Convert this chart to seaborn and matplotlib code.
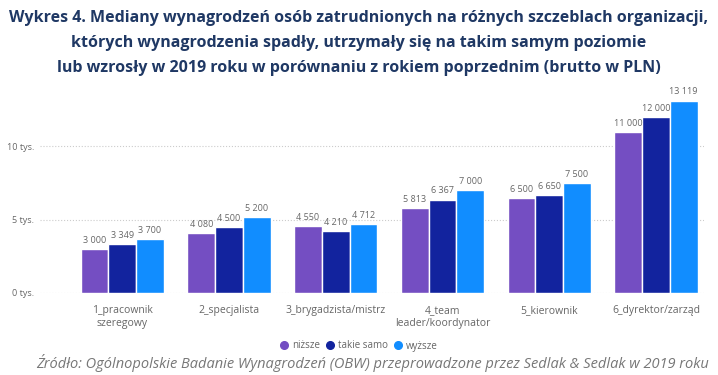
import pandas as pd
import matplotlib.pyplot as plt
import seaborn as sns
from matplotlib.lines import Line2D

# data
categories = ["1_pracownik\nszeregowy", "2_specjalista", "3_brygadzista/mistrz",
              "4_team\nleader/koordynator", "5_kierownik", "6_dyrektor/zarząd"]
nizsze = [3000, 4080, 4550, 5813, 6500, 11000]
takie_samo = [3349, 4500, 4210, 6367, 6650, 12000]
wyzsze = [3700, 5200, 4712, 7000, 7500, 13119]
series = ["niższe", "takie samo", "wyższe"]
colors = ["#744EC2", "#12239E", "#118DFF"]

df = pd.DataFrame({
    "kategoria": categories * 3,
    "seria": [s for s in series for _ in categories],
    "wartosc": nizsze + takie_samo + wyzsze,
})

sns.set_theme(style="white")
plt.rcParams["font.family"] = ["Open Sans", "DejaVu Sans"]

fig = plt.figure(figsize=(7.18, 3.75), dpi=100)
ax = fig.add_axes([40 / 718, 1 - 293 / 375, 664 / 718, 198 / 375])

sns.barplot(data=df, x="kategoria", y="wartosc", hue="seria", palette=colors,
            width=0.78, saturation=1, ax=ax, legend=False)

for cont in ax.containers:
    ax.bar_label(cont, labels=[f"{v:,.0f}".replace(",", " ") for v in cont.datavalues],
                 fontsize=6.5, color="#666666", padding=3)

ax.set_ylim(0, 13500)
ax.set_xlim(-0.77, 5.45)
ax.set_yticks([0, 5000, 10000])
ax.set_yticklabels(["0 tys.", "5 tys.", "10 tys."], fontsize=6.5, color="#666666")
ax.tick_params(axis="x", labelsize=7.5, colors="#666666", pad=9, length=0)
ax.tick_params(axis="y", length=0, pad=4)
ax.grid(axis="y", linestyle=":", color="#cccccc", linewidth=0.8)
ax.set_axisbelow(True)
ax.set_xlabel("")
ax.set_ylabel("")
sns.despine(ax=ax, left=True, bottom=True)

handles = [Line2D([0], [0], marker="o", color="none", markerfacecolor=c,
                  markeredgecolor=c, markersize=5.5) for c in colors]
fig.legend(handles, series, loc="center", bbox_to_anchor=(0.5, 1 - 346 / 375),
           ncol=3, frameon=False, fontsize=7, handletextpad=0.35,
           columnspacing=0.7, handlelength=0.8, labelcolor="#666666")

title = ("Wykres 4. Mediany wynagrodzeń osób zatrudnionych na różnych szczeblach organizacji,\n"
         "których wynagrodzenia spadły, utrzymały się na takim samym poziomie\n"
         "lub wzrosły w 2019 roku w porównaniu z rokiem poprzednim (brutto w PLN)")
fig.text(0.5, 1 - 43 / 375, title, ha="center", va="center", fontsize=11.5,
         fontweight="bold", color="#1F3864", linespacing=1.75)

fig.text(373 / 718, 1 - 363 / 375,
         "Źródło: Ogólnopolskie Badanie Wynagrodzeń (OBW) przeprowadzone przez Sedlak & Sedlak w 2019 roku",
         ha="center", va="center", fontsize=10.5, style="italic", color="#777777")

fig.savefig("out.png", dpi=100)
